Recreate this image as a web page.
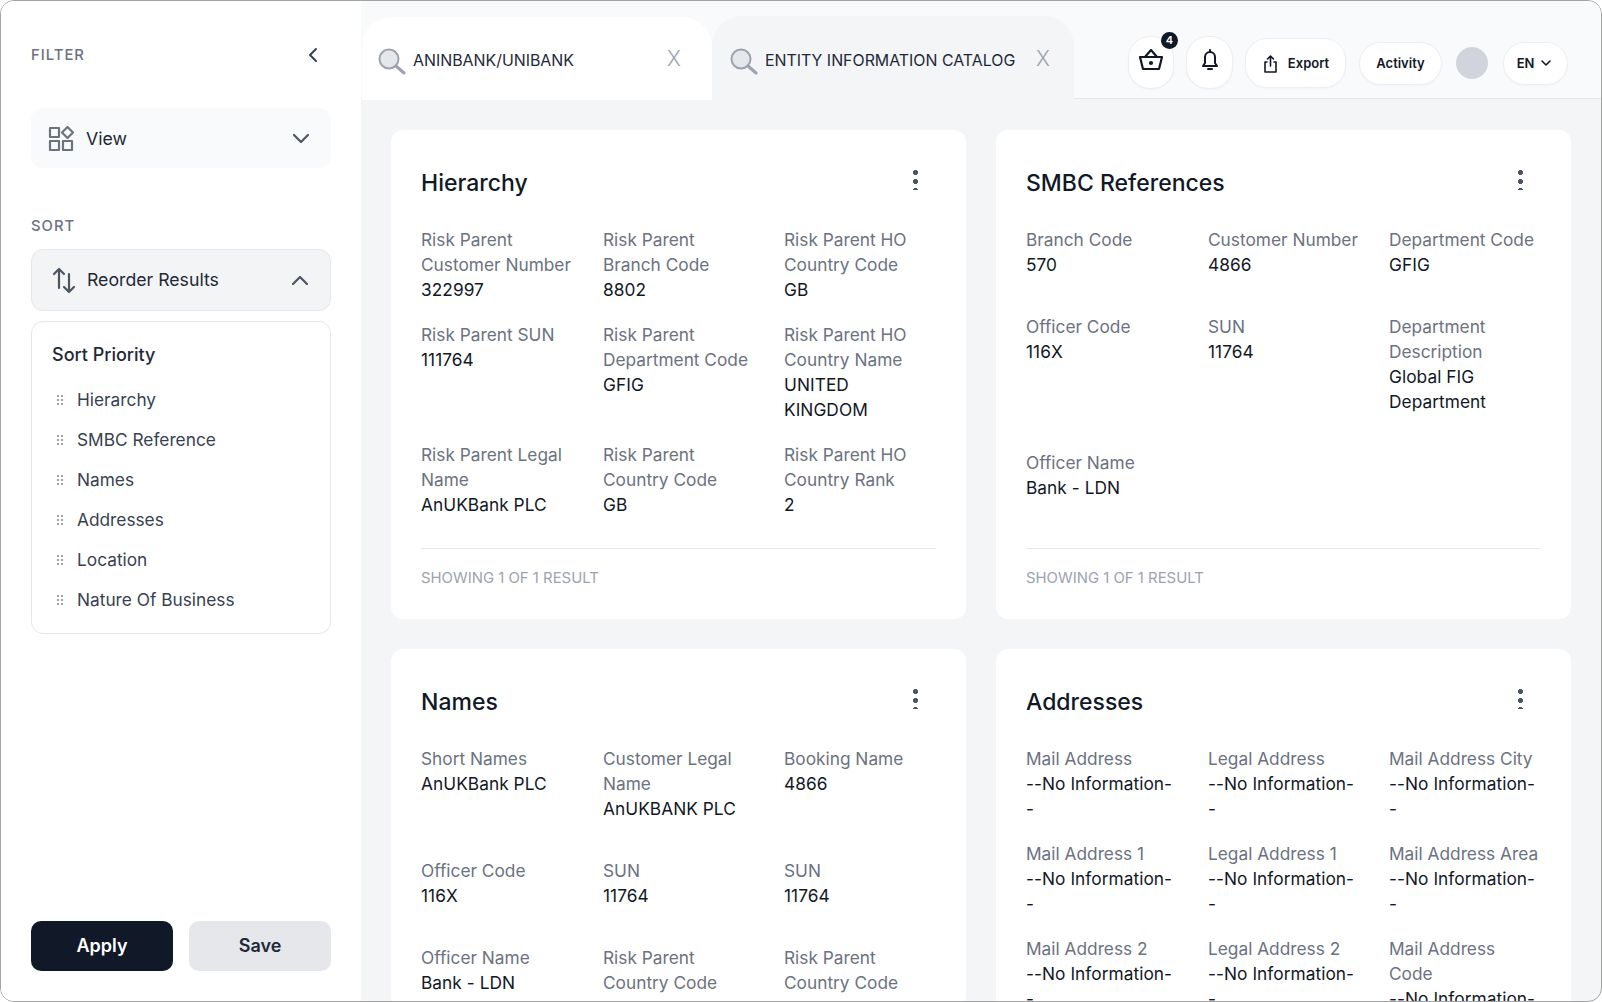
<!DOCTYPE html>
<html lang="en">
<head>
<meta charset="utf-8">
<title>Entity Information Catalog</title>
<script src="https://cdn.jsdelivr.net/npm/chart.js@4"></script>
<style>
* { box-sizing: border-box; }
html, body { margin: 0; width: 1602px; height: 1002px; overflow: hidden; background: #fff; font-family: Inter, "Noto Sans", sans-serif; color: #111827; }
svg { display: block; }
#frame { position: absolute; left: 0; top: 0; width: 1602px; height: 1002px; overflow: hidden; border: 1.5px solid #a3a3a3; border-radius: 14px; background: #f3f5f7; }
.abs { position: absolute; white-space: nowrap; }
#sidebar { position: absolute; left: 0; top: 0; width: 360px; height: 1002px; background: #fff; }
#topbar { position: absolute; left: 360px; top: 0; width: 1242px; height: 98px; background: #f9fafb; border-bottom: 1px solid #e5e7eb; }
.tab { position: absolute; height: 83px; border-radius: 30px 30px 0 0; }
.heading { font-size: 14.8px; font-weight: 500; letter-spacing: 1px; color: #6b7280; }
.box { position: absolute; left: 30px; width: 300px; border-radius: 12px; }
.side-text { font-size: 17.7px; color: #1f2937; }
.item { font-size: 17.3px; color: #374151; left: 76px; }
.grip { left: 55px; width: 8px; height: 11px; background-image: radial-gradient(circle, #9ca3af 1px, transparent 1.2px); background-size: 4px 4px; }
.btn { position: absolute; top: 920px; width: 142px; height: 50px; border-radius: 10px; text-align: center; line-height: 50px; font-size: 18px; font-weight: 600; }
.pill { position: absolute; background: #fff; border: 1px solid #eceef1; border-radius: 22px; font-size: 13px; font-weight: 600; text-align: center; box-shadow: 0 1px 2px rgba(0,0,0,.03); }
.card { position: absolute; width: 575px; background: #fff; border-radius: 12px; padding: 0 30px; overflow: hidden; }
.card h2 { position: absolute; left: 30px; top: 37px; margin: 0; font-size: 23px; line-height: 32px; font-weight: 500; color: #111827; }
.dots { position: absolute; left: 522px; top: 38px; width: 5px; height: 22px; background-image: radial-gradient(circle, #4b5563 2.4px, transparent 2.7px); background-size: 5px 9px; }
.grid { position: absolute; left: 30px; top: 97px; width: 545px; display: grid; grid-template-columns: 182px 181px 182px; }
.cell { font-size: 17.3px; line-height: 25px; white-space: pre-line; }
.cell .lab { color: #6b7280; display: block; }
.cell .val { color: #111827; display: block; letter-spacing: .05px; }
.rule { position: absolute; left: 30px; right: 30px; top: 418px; height: 1px; background: #e5e7eb; }
.foot { position: absolute; left: 30px; top: 439px; font-size: 14.9px; color: #9ca3af; }
</style>
</head>
<body>
<div id="frame">
  <div id="sidebar"></div>
  <div id="topbar"></div>
  <div id="main"></div>
</div>
<script>
const sortPriority = ['Hierarchy', 'SMBC Reference', 'Names', 'Addresses', 'Location', 'Nature Of Business'];
const searchTabs = ['ANINBANK/UNIBANK', 'ENTITY INFORMATION CATALOG'];
const footerText = 'SHOWING 1 OF 1 RESULT';
const noInfo = '--No Information-\n-';

const hierarchyFields = [
    ['Risk Parent\nCustomer Number', '322997'], ['Risk Parent\nBranch Code', '8802'], ['Risk Parent HO\nCountry Code', 'GB'],
    ['Risk Parent SUN', '111764'], ['Risk Parent\nDepartment Code', 'GFIG'], ['Risk Parent HO\nCountry Name', 'UNITED\nKINGDOM'],
    ['Risk Parent Legal\nName', 'AnUKBank PLC'], ['Risk Parent\nCountry Code', 'GB'], ['Risk Parent HO\nCountry Rank', '2']
];
const smbcFields = [
    ['Branch Code', '570'], ['Customer Number', '4866'], ['Department Code', 'GFIG'],
    ['Officer Code', '116X'], ['SUN', '11764'], ['Department\nDescription', 'Global FIG\nDepartment'],
    ['Officer Name', 'Bank - LDN']
];
const nameFields = [
    ['Short Names', 'AnUKBank PLC'], ['Customer Legal\nName', 'AnUKBANK PLC'], ['Booking Name', '4866'],
    ['Officer Code', '116X'], ['SUN', '11764'], ['SUN', '11764'],
    ['Officer Name', 'Bank - LDN'], ['Risk Parent\nCountry Code', 'GB'], ['Risk Parent\nCountry Code', 'GB']
];
const addressFields = [
    ['Mail Address', noInfo], ['Legal Address', noInfo], ['Mail Address City', noInfo],
    ['Mail Address 1', noInfo], ['Legal Address 1', noInfo], ['Mail Address Area', noInfo],
    ['Mail Address 2', noInfo], ['Legal Address 2', noInfo], ['Mail Address\nCode', noInfo]
];

function agregar(padre, clase, texto, estilo) {
    const el = document.createElement('div');
    el.className = clase;
    if (texto) el.textContent = texto;
    if (estilo) el.style.cssText = estilo;
    padre.appendChild(el);
    return el;
}

function icono(padre, estilo, w, h, dentro) {
    const el = agregar(padre, 'abs', '', estilo);
    el.innerHTML = `<svg width="${w}" height="${h}" viewBox="0 0 ${w} ${h}" fill="none" stroke-linecap="round" stroke-linejoin="round">${dentro}</svg>`;
}

function crearSidebar() {
    const s = document.getElementById('sidebar');
    agregar(s, 'abs heading', 'FILTER', 'left:30px;top:45px;');
    icono(s, 'left:306px;top:46px;', 12, 16, '<path d="M9 2 L3 8 L9 14" stroke="#374151" stroke-width="2"/>');

    agregar(s, 'box', '', 'top:107px;height:60px;background:#f9fafb;');
    icono(s, 'left:47px;top:125px;', 26, 26, '<g stroke="#6b7280" stroke-width="2.2"><rect x="2" y="2" width="9" height="9"/><rect x="2" y="15" width="9" height="9"/><rect x="15" y="15" width="9" height="9"/><path d="M19.5 1 L25 6.5 L19.5 12 L14 6.5 Z"/></g>');
    agregar(s, 'abs side-text', 'View', 'left:85px;top:127px;');
    icono(s, 'left:291px;top:132px;', 18, 12, '<path d="M2 2 L9 9 L16 2" stroke="#4b5563" stroke-width="2.2"/>');

    agregar(s, 'abs heading', 'SORT', 'left:30px;top:216px;');
    agregar(s, 'box', '', 'top:248px;height:62px;background:#f3f4f6;border:1px solid #e5e7eb;');
    icono(s, 'left:50px;top:265px;', 26, 28, '<g stroke="#4b5563" stroke-width="2.2"><path d="M8 22 V3 M3 8 L8 3 L13 8"/><path d="M18 8 V26 M13 21 L18 26 L23 21"/></g>');
    agregar(s, 'abs side-text', 'Reorder Results', 'left:86px;top:268px;');
    icono(s, 'left:290px;top:273px;', 18, 12, '<path d="M2 10 L9 3 L16 10" stroke="#4b5563" stroke-width="2.2"/>');

    agregar(s, 'box', '', 'top:320px;height:313px;background:#fff;border:1.5px solid #e5e7eb;');
    agregar(s, 'abs', 'Sort Priority', 'left:51px;top:343px;font-size:18px;font-weight:500;color:#1f2937;');
    sortPriority.forEach((nombre, i) => {
        agregar(s, 'abs grip', '', `top:${393 + i * 40}px;`);
        agregar(s, 'abs item', nombre, `top:${388 + i * 40}px;`);
    });

    agregar(s, 'btn', 'Apply', 'left:30px;background:#111827;color:#fff;');
    agregar(s, 'btn', 'Save', 'left:188px;background:#e5e7eb;color:#1f2937;');
}

function crearTopbar() {
    const t = document.getElementById('topbar');
    const lupa = '<circle cx="11" cy="11" r="9.5" fill="#e5e7eb" stroke="#9ca3af" stroke-width="2"/><path d="M18 18 L26 25" stroke="#9ca3af" stroke-width="3"/>';
    agregar(t, 'tab', '', 'left:1px;top:16px;width:350px;background:#fff;');
    agregar(t, 'tab', '', 'left:351px;top:15px;width:362px;background:#f3f5f7;height:84px;');
    icono(t, 'left:17px;top:47px;', 28, 27, lupa);
    icono(t, 'left:369px;top:47px;', 28, 27, lupa);
    agregar(t, 'abs', searchTabs[0], 'left:52px;top:50px;font-size:15.9px;color:#1f2937;');
    agregar(t, 'abs', searchTabs[1], 'left:404px;top:50px;font-size:15.9px;color:#1f2937;');
    agregar(t, 'abs', 'X', 'left:306px;top:45px;font-size:21px;font-weight:300;color:#9ca3af;');
    agregar(t, 'abs', 'X', 'left:675px;top:45px;font-size:21px;font-weight:300;color:#9ca3af;');

    agregar(t, 'pill', '', 'left:767px;top:35px;width:46px;height:53px;');
    icono(t, 'left:777px;top:48px;', 26, 22, '<g stroke="#111827" stroke-width="2.2"><path d="M2 8 H24 L21 20 H5 Z"/><path d="M7 8 L13 1 L19 8"/><circle cx="13" cy="14" r="1"/></g>');
    agregar(t, 'abs', '4', 'left:800px;top:31px;width:17px;height:17px;border-radius:50%;background:#111827;color:#fff;font-size:11px;font-weight:600;line-height:17px;text-align:center;');
    agregar(t, 'pill', '', 'left:825px;top:35px;width:47px;height:53px;');
    icono(t, 'left:839px;top:47px;', 20, 24, '<path d="M3 18 H17 L15 15 V9 A5 5 0 0 0 5 9 V15 Z M10 2 V4 M8 21 H12" stroke="#111827" stroke-width="2"/>');
    agregar(t, 'pill', 'Export', 'left:884px;top:37px;width:101px;height:50px;line-height:48px;padding-left:26px;');
    icono(t, 'left:902px;top:53px;', 16, 20, '<path d="M4 8 H2 V18 H13 V8 H11 M7.5 12 V2 M4.5 5 L7.5 2 L10.5 5" stroke="#111827" stroke-width="1.6"/>');
    agregar(t, 'pill', 'Activity', 'left:998px;top:41px;width:83px;height:43px;line-height:41px;');
    agregar(t, 'abs', '', 'left:1095px;top:46px;width:32px;height:32px;border-radius:50%;background:#d1d5db;');
    agregar(t, 'pill', 'EN', 'left:1142px;top:41px;width:65px;height:43px;line-height:41px;padding-right:20px;');
    icono(t, 'left:1179px;top:58px;', 12, 8, '<path d="M2 2 L6 6 L10 2" stroke="#111827" stroke-width="1.6"/>');
}

function crearTarjeta(titulo, campos, estilo, hueco, conPie) {
    const main = document.getElementById('main');
    const card = agregar(main, 'card', '', estilo);
    const h = document.createElement('h2');
    h.textContent = titulo;
    card.appendChild(h);
    agregar(card, 'dots');
    const grid = agregar(card, 'grid', '', `row-gap:${hueco}px;`);
    campos.forEach(c => {
        const celda = agregar(grid, 'cell');
        agregar(celda, 'lab', c[0]);
        agregar(celda, 'val', c[1]);
    });
    if (conPie) {
        agregar(card, 'rule');
        agregar(card, 'foot', footerText);
    }
}

crearSidebar();
crearTopbar();
crearTarjeta('Hierarchy', hierarchyFields, 'left:390px;top:129px;height:489px;', 20, true);
crearTarjeta('SMBC References', smbcFields, 'left:995px;top:129px;height:489px;', 36.5, true);
crearTarjeta('Names', nameFields, 'left:390px;top:648px;height:360px;', 37, false);
crearTarjeta('Addresses', addressFields, 'left:995px;top:648px;height:360px;', 20, false);
</script>
</body>
</html>
